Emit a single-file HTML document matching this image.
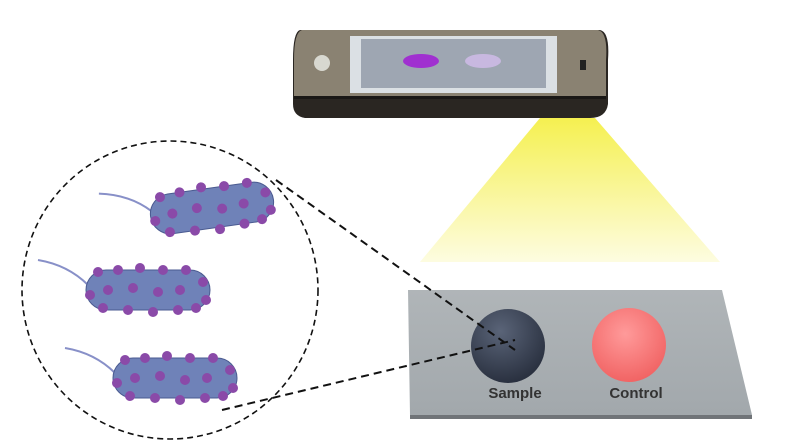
<!DOCTYPE html>
<html><head><style>body{margin:0;background:#fff}svg{display:block}</style></head><body>
<svg width="800" height="446" viewBox="0 0 800 446" xmlns="http://www.w3.org/2000/svg">
<defs>
<linearGradient id="y" x1="0" y1="0" x2="0" y2="1"><stop offset="0" stop-color="#f5f050"/><stop offset="1" stop-color="#fdfce0"/></linearGradient>
<radialGradient id="s" cx="0.4" cy="0.3" r="0.7"><stop offset="0" stop-color="#5a6478"/><stop offset="1" stop-color="#2a3140"/></radialGradient>
<radialGradient id="c" cx="0.45" cy="0.35" r="0.7"><stop offset="0" stop-color="#ff9a9a"/><stop offset="1" stop-color="#f06060"/></radialGradient>
<linearGradient id="p" x1="0" y1="0" x2="0" y2="1"><stop offset="0" stop-color="#b0b5b8"/><stop offset="1" stop-color="#a2a8ac"/></linearGradient>
<g id="bac">
<path d="M-60,-5 Q-80,-25 -110,-30" stroke="#8890c8" stroke-width="2" fill="none"/>
<rect x="-62" y="-20" width="124" height="40" rx="20" fill="#6f82b8" stroke="#4a5a90"/>
<g fill="#8a4aa8"><circle cx="-50" cy="-18" r="5"/><circle cx="-30" cy="-20" r="5"/><circle cx="-8" cy="-22" r="5"/><circle cx="15" cy="-20" r="5"/><circle cx="38" cy="-20" r="5"/><circle cx="55" cy="-8" r="5"/><circle cx="-58" cy="5" r="5"/><circle cx="-40" cy="0" r="5"/><circle cx="-15" cy="-2" r="5"/><circle cx="10" cy="2" r="5"/><circle cx="32" cy="0" r="5"/><circle cx="58" cy="10" r="5"/><circle cx="-45" cy="18" r="5"/><circle cx="-20" cy="20" r="5"/><circle cx="5" cy="22" r="5"/><circle cx="30" cy="20" r="5"/><circle cx="48" cy="18" r="5"/></g>
</g>
</defs>
<polygon points="540,118 595,118 720,262 420,262" fill="url(#y)"/>
<!-- phone -->
<path d="M300,30 L600,30 Q610,32 608,60 L608,104 Q606,118 590,118 L305,118 Q293,116 293,104 L293,60 Q293,32 300,30Z" fill="#2a2622"/>
<path d="M302,30 L598,30 Q608,32 606,60 L606,98 L294,98 L294,60 Q294,32 302,30Z" fill="#8a8272"/>
<rect x="294" y="96" width="312" height="3" fill="#1a1816"/>
<rect x="350" y="36" width="207" height="57" fill="#dbe0e4"/>
<rect x="361" y="39" width="185" height="49" fill="#9ea6b2"/>
<ellipse cx="421" cy="61" rx="18" ry="7" fill="#a030d0"/>
<ellipse cx="483" cy="61" rx="18" ry="7" fill="#c8b8e0"/>
<circle cx="322" cy="63" r="8" fill="#d8d8d0"/>
<rect x="580" y="60" width="6" height="10" fill="#222"/>
<!-- plate -->
<polygon points="410,415 752,415 752,419 410,419" fill="#707478"/>
<polygon points="408,290 722,290 752,415 410,415" fill="url(#p)"/>
<circle cx="508" cy="346" r="37" fill="url(#s)"/>
<circle cx="629" cy="345" r="37" fill="url(#c)"/>
<text x="515" y="398" font-family="Liberation Sans, sans-serif" font-size="15" font-weight="bold" fill="#333" text-anchor="middle">Sample</text>
<text x="636" y="398" font-family="Liberation Sans, sans-serif" font-size="15" font-weight="bold" fill="#333" text-anchor="middle">Control</text>
<!-- circle -->
<ellipse cx="170" cy="290" rx="148" ry="149" fill="#fff" stroke="#111" stroke-width="1.6" stroke-dasharray="6,4"/>
<line x1="276" y1="180" x2="515" y2="350" stroke="#111" stroke-width="2" stroke-dasharray="8,5"/>
<line x1="222" y1="410" x2="515" y2="340" stroke="#111" stroke-width="2" stroke-dasharray="8,5"/>
<use href="#bac" transform="translate(212,208) rotate(-8)"/>
<use href="#bac" transform="translate(148,290)"/>
<use href="#bac" transform="translate(175,378)"/>
</svg>
</body></html>
